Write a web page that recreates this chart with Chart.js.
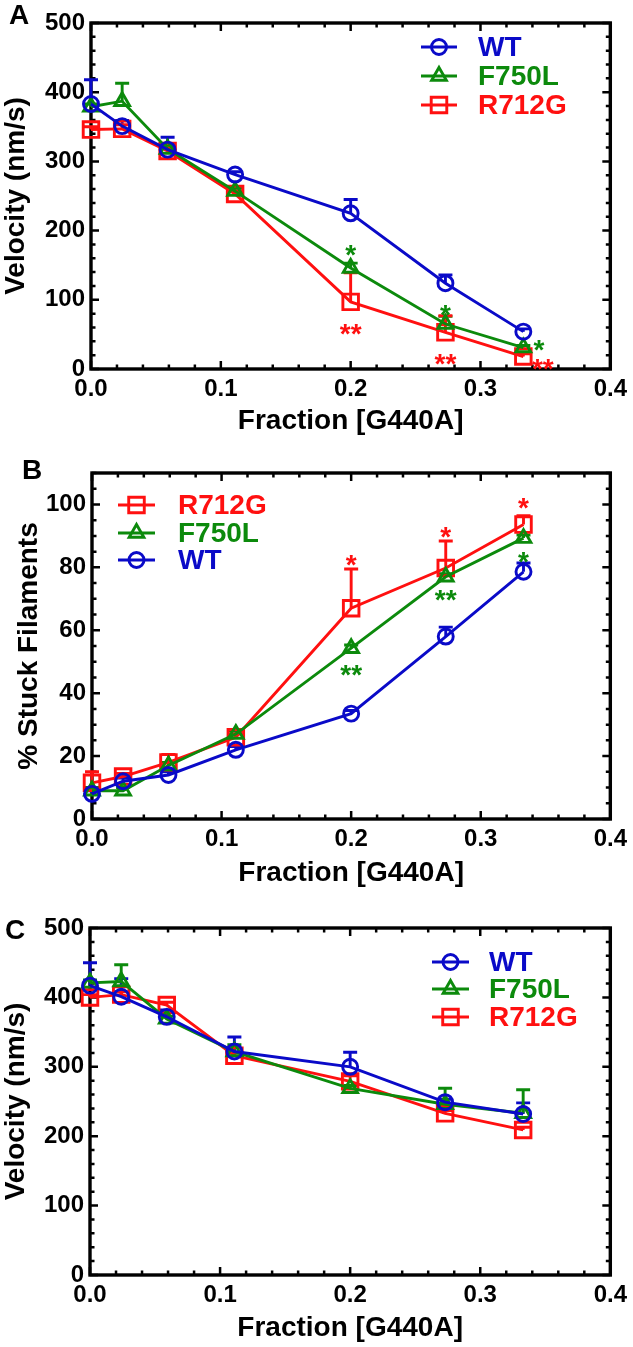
<!DOCTYPE html>
<html lang="en">
<head>
  <meta charset="UTF-8" />
  <title>Velocity and stuck filaments vs fraction G440A</title>
  <script src="https://cdn.jsdelivr.net/npm/chart.js"></script>
  <style>
    html, body { margin: 0; background: #fff; }
    #wrap { position: relative; width: 633px; height: 1347px; overflow: hidden; }
    canvas { position: absolute; left: 0; display: block; }
  </style>
</head>
<body>
<div id="wrap">
  <canvas id="cA" width="633" height="440" style="top:0"></canvas>
  <canvas id="cB" width="633" height="447" style="top:440px"></canvas>
  <canvas id="cC" width="633" height="457" style="top:890px"></canvas>
</div>
<script>
  // x positions shared by all three panels
  const fractions = [0, 0.024, 0.059, 0.111, 0.2, 0.273, 0.333];
  const xTicks = [0, 0.1, 0.2, 0.3, 0.4];

  // panel A - velocity
  const velA_WT     = [383, 351, 317, 281, 225, 124, 54];
  const velA_WT_err = [35, 8, 18, 4, 20, 12, 4];
  const velA_F7     = [379, 387, 318, 257, 146, 65, 31];
  const velA_F7_err = [4, 26, 4, 4, 7, 11, 3];
  const velA_R7     = [346, 347, 315, 253, 97, 53, 18];
  const velA_R7_err = [4, 6, 4, 4, 42, 24, 4];

  // panel B - % stuck filaments
  const stuck_WT     = [8, 12, 14, 22, 33.5, 58, 78.6];
  const stuck_WT_err = [1, 1, 1, 1, 1, 3, 2.8];
  const stuck_F7     = [9, 9, 17, 27, 54.3, 77, 89.3];
  const stuck_F7_err = [1, 1, 1, 1, 1, 1, 1];
  const stuck_R7     = [11.5, 13.5, 18, 26, 67, 79.8, 93.6];
  const stuck_R7_err = [3.5, 1, 2.5, 1, 12.5, 8.6, 2.8];

  // panel C - velocity
  const velC_WT     = [417, 401, 372, 322, 300, 249, 232];
  const velC_WT_err = [33, 26, 10, 21, 21, 4, 16];
  const velC_F7     = [421, 423, 369, 322, 269, 246, 233];
  const velC_F7_err = [4, 24, 4, 10, 4, 23, 34];
  const velC_R7     = [400, 404, 389, 316, 279, 233, 209];
  const velC_R7_err = [4, 4, 4, 4, 8, 4, 4];

  // significance marks [x, y, text, series]
  const starsA = [[0.2, 175, '*', 'F750L'], [0.2, 61, '**', 'R712G'], [0.273, 88, '*', 'F750L'],
                  [0.273, 17, '**', 'R712G'], [0.345, 37, '*', 'F750L'], [0.348, 10, '**', 'R712G']];
  const starsB = [[0.2, 83, '*', 'R712G'], [0.273, 92, '*', 'R712G'], [0.333, 101, '*', 'R712G'],
                  [0.2, 48, '**', 'F750L'], [0.273, 72, '**', 'F750L'], [0.333, 84, '*', 'F750L']];

  const FONT = "'Liberation Sans', Arial, Helvetica, sans-serif";
  const colors = { WT: '#0a0ac8', F750L: '#0c8a0c', R712G: '#ff1010' };
  const shapes = { WT: ['circle', 7.5], F750L: ['triangle', 8.5], R712G: ['rect', 11] };
  const LW = 2.9;

  function series(name, vals, errs) {
    const [style, r] = shapes[name];
    return {
      label: name,
      data: fractions.map((x, i) => ({ x: x, y: vals[i] })),
      errors: errs,
      borderColor: colors[name],
      borderWidth: LW,
      pointStyle: style,
      pointRadius: r,
      pointHoverRadius: r,
      pointBorderWidth: LW,
      pointBorderColor: colors[name],
      pointBackgroundColor: 'rgba(0,0,0,0)',
      tension: 0,
      clip: false
    };
  }

  // frame, inward ticks, error bars, stars, legend, panel letter
  const decor = {
    id: 'decor',
    beforeDatasetsDraw(chart) {
      const o = chart.options.plugins.decor;
      const ctx = chart.ctx;
      const { left, right, top, bottom } = chart.chartArea;
      const xs = chart.scales.x, ys = chart.scales.y;
      ctx.save();
      ctx.strokeStyle = '#000';
      ctx.lineWidth = 2.5;
      ctx.beginPath();
      const nx = Math.round((xs.max - xs.min) / o.xMinor);
      for (let i = 0; i <= nx; i++) {
        const v = xs.min + i * o.xMinor;
        const px = xs.getPixelForValue(v);
        const len = (i % o.xEvery === 0) ? 8 : 4.5;
        ctx.moveTo(px, bottom); ctx.lineTo(px, bottom - len);
        ctx.moveTo(px, top); ctx.lineTo(px, top + len);
      }
      const ny = Math.round((ys.max - ys.min) / o.yMinor);
      for (let i = 0; i <= ny; i++) {
        const v = ys.min + i * o.yMinor;
        const py = ys.getPixelForValue(v);
        const len = (i % o.yEvery === 0) ? 8 : 4.5;
        ctx.moveTo(left, py); ctx.lineTo(left + len, py);
        ctx.moveTo(right, py); ctx.lineTo(right - len, py);
      }
      ctx.stroke();
      ctx.lineWidth = 3.4;
      ctx.strokeRect(left, top, right - left, bottom - top);

      // one-sided error bars
      chart.data.datasets.forEach((ds, di) => {
        const meta = chart.getDatasetMeta(di);
        ctx.strokeStyle = ds.borderColor;
        ctx.lineWidth = LW;
        ctx.beginPath();
        meta.data.forEach((pt, j) => {
          const yTop = ys.getPixelForValue(ds.data[j].y + ds.errors[j]);
          ctx.moveTo(pt.x, pt.y); ctx.lineTo(pt.x, yTop);
          ctx.moveTo(pt.x - 7, yTop); ctx.lineTo(pt.x + 7, yTop);
        });
        ctx.stroke();
      });
      ctx.restore();
    },
    afterDraw(chart) {
      const o = chart.options.plugins.decor;
      const ctx = chart.ctx;
      const xs = chart.scales.x, ys = chart.scales.y;
      ctx.save();
      // stars
      ctx.font = 'bold 28px ' + FONT;
      ctx.textAlign = 'center';
      ctx.textBaseline = 'alphabetic';
      (o.stars || []).forEach(s => {
        ctx.fillStyle = colors[s[3]];
        ctx.fillText(s[2], xs.getPixelForValue(s[0]), ys.getPixelForValue(s[1]) + 16);
      });
      // legend
      const lg = o.legend;
      lg.order.forEach((name, k) => {
        const ds = chart.data.datasets.find(d => d.label === name);
        const y = lg.rows[k];
        ctx.strokeStyle = ds.borderColor;
        ctx.fillStyle = 'rgba(0,0,0,0)';
        ctx.lineWidth = LW;
        ctx.beginPath(); ctx.moveTo(lg.x0, y); ctx.lineTo(lg.x1, y); ctx.stroke();
        Chart.helpers.drawPoint(ctx, { pointStyle: ds.pointStyle, radius: ds.pointRadius, borderWidth: LW, rotation: 0 },
          (lg.x0 + lg.x1) / 2, y);
        ctx.fillStyle = ds.borderColor;
        ctx.font = 'bold 28px ' + FONT;
        ctx.textAlign = 'left';
        ctx.textBaseline = 'middle';
        ctx.fillText(name, lg.tx, y + 1);
      });
      // panel letter
      ctx.fillStyle = '#000';
      ctx.font = 'bold 28px ' + FONT;
      ctx.textAlign = 'center';
      ctx.textBaseline = 'middle';
      ctx.fillText(o.letter[0], o.letter[1], o.letter[2]);
      ctx.restore();
    }
  };

  function makePanel(id, p) {
    return new Chart(document.getElementById(id), {
      type: 'line',
      data: { datasets: p.datasets },
      plugins: [decor],
      options: {
        responsive: false,
        animation: false,
        devicePixelRatio: 1,
        layout: { padding: { left: 0, right: 20, top: p.padTop, bottom: 0 } },
        plugins: {
          legend: { display: false },
          tooltip: { enabled: false },
          decor: p.decor
        },
        scales: {
          x: {
            type: 'linear', min: 0, max: 0.4,
            afterBuildTicks: s => { s.ticks = xTicks.map(v => ({ value: v })); },
            ticks: { callback: v => v.toFixed(1), color: '#000', font: { family: FONT, size: 24, weight: 'bold' },
                     padding: 6, maxRotation: 0, autoSkip: false },
            grid: { display: false, drawTicks: false },
            border: { display: false },
            title: { display: true, text: 'Fraction [G440A]', color: '#000',
                     font: { family: FONT, size: 28, weight: 'bold', lineHeight: 1 },
                     padding: { top: 0, bottom: p.xTitlePad } },
            afterFit: s => { s.height = p.xHeight; }
          },
          y: {
            type: 'linear', min: 0, max: p.yMax,
            afterBuildTicks: s => { s.ticks = p.yTicks.map(v => ({ value: v })); },
            ticks: { color: '#000', font: { family: FONT, size: 24, weight: 'bold' }, padding: 6 },
            grid: { display: false, drawTicks: false },
            border: { display: false },
            title: { display: true, text: p.yTitle, color: '#000',
                     font: { family: FONT, size: 28, weight: 'bold', lineHeight: 1 },
                     padding: { top: p.yTitlePad, bottom: 0 } },
            afterFit: s => { s.width = p.yWidth; }
          }
        }
      }
    });
  }

  makePanel('cA', {
    datasets: [series('WT', velA_WT, velA_WT_err), series('F750L', velA_F7, velA_F7_err), series('R712G', velA_R7, velA_R7_err)],
    padTop: 23, xHeight: 71, xTitlePad: 5, yWidth: 91, yTitlePad: 2,
    yMax: 500, yTicks: [0, 100, 200, 300, 400, 500], yTitle: 'Velocity (nm/s)',
    decor: { xMinor: 0.02, xEvery: 5, yMinor: 20, yEvery: 5, stars: starsA, letter: ['A', 19, 16],
             legend: { order: ['WT', 'F750L', 'R712G'], rows: [47, 76, 105], x0: 421, x1: 457, tx: 478 } }
  });

  makePanel('cB', {
    datasets: [series('WT', stuck_WT, stuck_WT_err), series('F750L', stuck_F7, stuck_F7_err), series('R712G', stuck_R7, stuck_R7_err)],
    padTop: 33, xHeight: 68, xTitlePad: 0, yWidth: 92, yTitlePad: 15,
    yMax: 110, yTicks: [0, 20, 40, 60, 80, 100], yTitle: '% Stuck Filaments',
    decor: { xMinor: 0.02, xEvery: 5, yMinor: 5, yEvery: 4, stars: starsB, letter: ['B', 32, 31],
             legend: { order: ['R712G', 'F750L', 'WT'], rows: [65, 93, 120], x0: 118, x1: 155, tx: 178 } }
  });

  makePanel('cC', {
    datasets: [series('WT', velC_WT, velC_WT_err), series('F750L', velC_F7, velC_F7_err), series('R712G', velC_R7, velC_R7_err)],
    padTop: 38, xHeight: 72, xTitlePad: 5, yWidth: 90, yTitlePad: 2,
    yMax: 500, yTicks: [0, 100, 200, 300, 400, 500], yTitle: 'Velocity (nm/s)',
    decor: { xMinor: 0.02, xEvery: 5, yMinor: 20, yEvery: 5, stars: [], letter: ['C', 15, 41],
             legend: { order: ['WT', 'F750L', 'R712G'], rows: [72, 99, 127], x0: 432, x1: 469, tx: 489 } }
  });
</script>
</body>
</html>
